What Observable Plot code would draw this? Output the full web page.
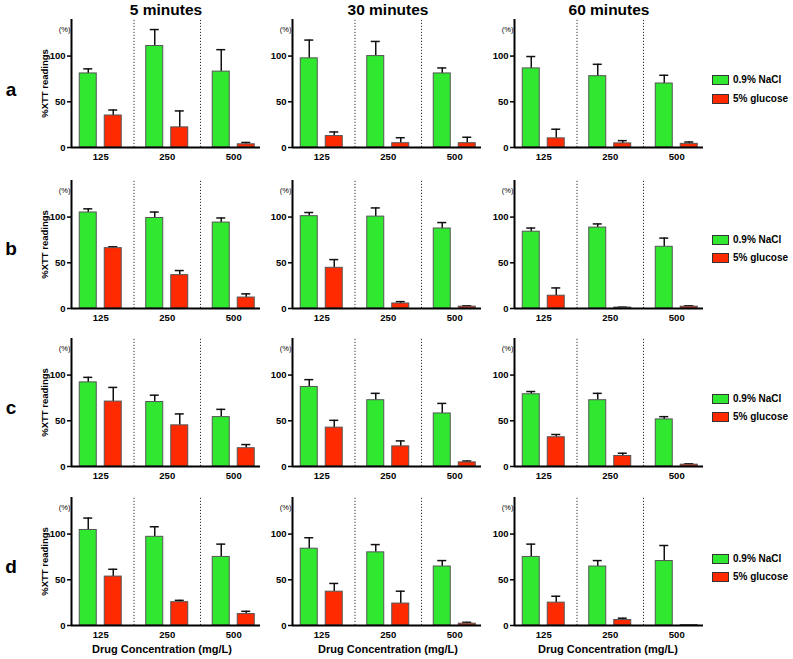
<!DOCTYPE html>
<html><head><meta charset="utf-8">
<script src="https://cdn.jsdelivr.net/npm/d3@7"></script>
<script src="https://cdn.jsdelivr.net/npm/@observablehq/plot@0.6"></script>
<style>
body{margin:0;background:#fff;}
#root{position:relative;width:793px;height:659px;overflow:hidden;font-family:"Liberation Sans",Arial,sans-serif;}
.lbl{position:absolute;white-space:nowrap;font-weight:bold;color:#000;line-height:1;}
.panel{position:absolute;}
.sw{position:absolute;width:17px;height:10px;border:1px solid #333;box-sizing:border-box;}
</style></head><body><div id="root"></div>
<script>
// ---- data ----
const concentrations = ["125", "250", "500"];
const seriesNames = ["0.9% NaCl", "5% glucose"];
const timeTitles = ["5 minutes", "30 minutes", "60 minutes"];
const rowLetters = ["a", "b", "c", "d"];
const yTicks = [0, 50, 100];
const yLabel = "%XTT readings";
const xLabel = "Drug Concentration (mg/L)";
// each array: [time][concentration]
const naclA = [[81, 111, 83], [97.5, 100, 81], [86.5, 78, 70]];
const naclErrA = [[5, 18, 24], [20, 16, 6], [13, 13, 9]];
const glucA = [[35, 22, 3.5], [12.5, 4.7, 4.7], [10, 4.5, 4]];
const glucErrA = [[6, 18, 2], [4.5, 6, 6.5], [10, 3, 2]];

const naclB = [[105, 99, 94], [101, 100.5, 87.5], [84, 88.5, 67.5]];
const naclErrB = [[4, 6.5, 5], [4, 9.5, 6.5], [4, 4, 9.5]];
const glucB = [[66, 36.5, 12], [44.5, 5.5, 2], [14, 1, 2]];
const glucErrB = [[1.5, 5, 4], [9, 2, 1], [8.5, 0.5, 1]];

const naclC = [[92, 70.5, 54], [87, 72.5, 58], [79, 72.5, 51.5]];
const naclErrC = [[5.5, 7.5, 8.5], [8, 7.5, 11], [3, 7.5, 3]];
const glucC = [[71, 45, 20], [42.5, 22, 4.5], [32, 11.5, 2]];
const glucErrC = [[15.5, 12.5, 4], [8, 6, 1.5], [3, 3, 1]];

const naclD = [[104.5, 97, 75], [84, 80, 64.5], [75, 64.5, 70.5]];
const naclErrD = [[13, 11, 14], [12, 8.5, 6.5], [14, 6.5, 17]];
const glucD = [[53.5, 25.5, 12.5], [37, 24, 2], [25, 6, 0.5]];
const glucErrD = [[8, 2, 3], [9, 13.5, 1.5], [7, 2, 0.3]];

const nacl = [naclA, naclB, naclC, naclD];
const naclErr = [naclErrA, naclErrB, naclErrC, naclErrD];
const gluc = [glucA, glucB, glucC, glucD];
const glucErr = [glucErrA, glucErrB, glucErrC, glucErrD];

const colors = ["#30e830", "#ff2a00"];

// ---- layout ----
const root = document.getElementById("root");
const FONT = '"Liberation Sans", Arial, sans-serif';
const zeroY = [147, 307.5, 466, 624.7];
const axisX = [71, 292, 514];
const H = 128, W = 189, MT = 10, MB = 20, MR = 6;
const STEP = 66.5, HALF = STEP / 2;

function panel(r, c) {
  const rows = [];
  concentrations.forEach((conc, i) => {
    rows.push({conc, series: seriesNames[0], mean: nacl[r][c][i], err: naclErr[r][c][i]});
    rows.push({conc, series: seriesNames[1], mean: gluc[r][c][i], err: glucErr[r][c][i]});
  });
  const ml = c === 0 ? 71 : 40;
  const x0 = ml - 4;
  const N = rows.filter(d => d.series === seriesNames[0]);
  const G = rows.filter(d => d.series === seriesNames[1]);
  const errMarks = (data, dx) => [
    Plot.ruleX(data, {x: "conc", y1: "mean", y2: d => d.mean + d.err, dx, stroke: "#111", strokeWidth: 1.5}),
    Plot.tickY(data, {x: "conc", y: d => d.mean + d.err, dx, insetLeft: HALF - 4.5, insetRight: HALF - 4.5, stroke: "#111", strokeWidth: 1.5})
  ];
  const svg = Plot.plot({
    width: ml + W + MR, height: MT + H + MB,
    marginLeft: ml, marginTop: MT, marginBottom: MB, marginRight: MR,
    style: {fontFamily: FONT, fontSize: "9.5px", fontWeight: "bold", background: "transparent", overflow: "visible", color: "#000"},
    x: {type: "band", domain: concentrations, range: [x0, x0 + 3 * STEP], padding: 0, round: false},
    y: {domain: [0, 140]},
    marks: [
      Plot.ruleX(concentrations.slice(1), {x: d => d, y1: 0, y2: 140, dx: -HALF, stroke: "#333", strokeWidth: 1, strokeDasharray: "1.2,1.8"}),
      ...errMarks(N, -12.5),
      ...errMarks(G, 12.5),
      Plot.barY(N, {x: "conc", y: "mean", fill: colors[0], stroke: "#555", strokeWidth: 1, insetLeft: HALF - 21, insetRight: HALF + 4}),
      Plot.barY(G, {x: "conc", y: "mean", fill: colors[1], stroke: "#555", strokeWidth: 1, insetLeft: HALF + 4, insetRight: HALF - 21}),
      Plot.ruleX([concentrations[0]], {x: d => d, y1: 0, y2: 140, dx: -(HALF - 4), stroke: "#000", strokeWidth: 2}),
      Plot.ruleY([0], {stroke: "#000", strokeWidth: 2}),
      Plot.axisY(yTicks, {tickSize: 4, tickPadding: 2, strokeWidth: 1.5, fill: "#000", label: c === 0 ? yLabel : null, labelAnchor: "center", labelOffset: 30, labelArrow: false}),
      Plot.axisX({tickSize: 0, tickPadding: 5.5, fill: "#000", label: null}),
      Plot.text(["(%)"], {frameAnchor: "top-left", dx: -12.7, dy: 7.5, fontSize: 7.5, fontWeight: "normal", fill: "#000"})
    ]
  });
  svg.classList.add("panel");
  svg.style.left = (axisX[c] - ml) + "px";
  svg.style.top = (zeroY[r] - H - MT) + "px";
  root.appendChild(svg);
}

function label(text, x, y, size, anchor = "center") {
  const d = document.createElement("div");
  d.className = "lbl";
  d.textContent = text;
  d.style.left = x + "px";
  d.style.top = y + "px";
  d.style.fontSize = size + "px";
  d.style.transform = anchor === "center" ? "translate(-50%,-50%)" : "translate(0,-50%)";
  root.appendChild(d);
  return d;
}

for (let r = 0; r < 4; r++) for (let c = 0; c < 3; c++) panel(r, c);

const colCenters = [166, 388, 609];
timeTitles.forEach((t, c) => label(t, colCenters[c], 9.5, 15.5));
const bottomCenters = [162, 388, 608];
bottomCenters.forEach(cx => label(xLabel, cx, 649, 11));
const letterY = [89, 248, 407, 566];
rowLetters.forEach((l, r) => label(l, 11, letterY[r], 19));

const legendY = [[80, 99], [240, 258], [399, 417], [559, 577]];
legendY.forEach(ys => {
  ys.forEach((y, k) => {
    const s = document.createElement("div");
    s.className = "sw";
    s.style.left = "711.5px";
    s.style.top = (y - 5) + "px";
    s.style.background = colors[k];
    root.appendChild(s);
    label(seriesNames[k], 733, y, 10, "left");
  });
});
</script></body></html>
